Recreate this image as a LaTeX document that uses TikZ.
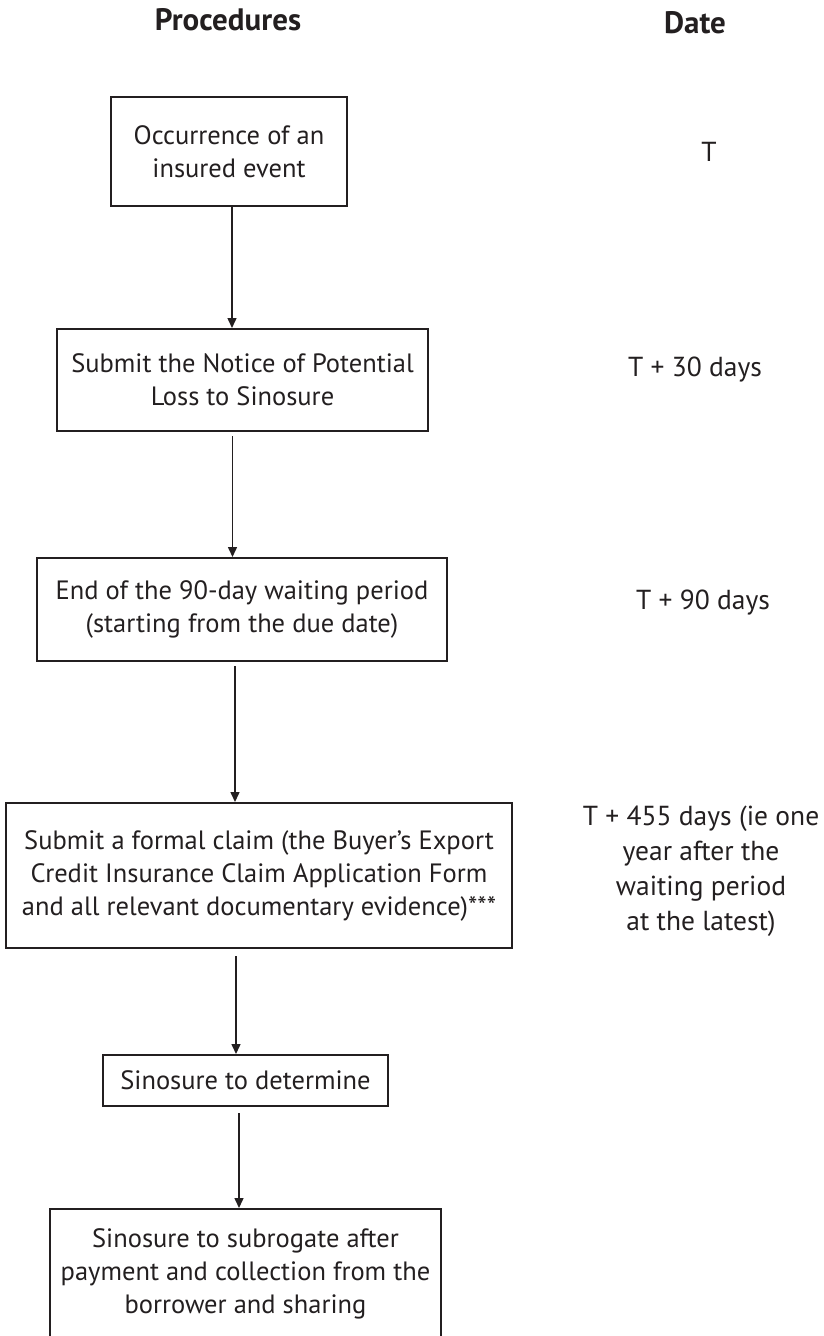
\documentclass[tikz,border=0pt]{standalone}
\usepackage{fontspec}
\setmainfont{PT Sans}
\usetikzlibrary{arrows.meta}
\definecolor{inkgray}{HTML}{231F20}

\begin{document}
\begin{tikzpicture}[x=1pt,y=-1pt,
		procbox/.style={draw=inkgray, line width=2pt, align=center, text=inkgray, inner sep=0pt, font=\fontsize{26.5}{33}\selectfont},
		datelabel/.style={align=center, text=inkgray, font=\fontsize{27.5}{35}\selectfont},
		heading/.style={text=inkgray, font=\fontsize{31}{36}\selectfont\bfseries},
		flow/.style={draw=inkgray, line width=1.5pt, -{Triangle[length=10pt,width=9pt]}}
	]
	\useasboundingbox (0,0) rectangle (823,1336);

	\node[heading] (proc) at (228,20) {Procedures};
	\node[heading] (date) at (695,23) {Date};

	\node[procbox, minimum width=236pt, minimum height=109pt] (occ) at (229,151.5) {Occurrence of an\\insured event};
	\node[procbox, minimum width=371pt, minimum height=102pt] (notice) at (242.5,380) {Submit the Notice of Potential\\Loss to Sinosure};
	\node[procbox, minimum width=410pt, minimum height=103pt] (wait) at (242,609.5) {End of the 90-day waiting period\\(starting from the due date)};
	\node[procbox, minimum width=506pt, minimum height=145pt] (claim) at (259,875.5) {Submit a formal claim (the Buyer’s Export\\Credit Insurance Claim Application Form\\and all relevant documentary evidence)***};
	\node[procbox, minimum width=285pt, minimum height=51pt] (det) at (245.5,1080.5) {Sinosure to determine};
	\node[procbox, minimum width=391pt, minimum height=130pt] (subro) at (245.5,1274) {Sinosure to subrogate after\\payment and collection from the\\borrower and sharing};

	\node[datelabel] (tzero) at (709,152) {T};
	\node[datelabel] (tthirty) at (695,370) {T + 30 days};
	\node[datelabel] (tninety) at (703,603) {T + 90 days};
	\node[datelabel] (tlast) at (701,871.5) {T + 455 days (ie one\\year after the\\waiting period\\at the latest)};

	\draw[flow] ([xshift=3pt]occ.south) -- ([xshift=3pt]occ.south |- notice.north);
	\draw[flow] ([xshift=-10pt,yshift=-4pt]notice.south) -- ([xshift=-10pt]notice.south |- wait.north);
	\draw[flow] ([xshift=-7pt,yshift=-4pt]wait.south) -- ([xshift=-7pt]wait.south |- claim.north);
	\draw[flow] ([xshift=-23pt,yshift=-7pt]claim.south) -- ([xshift=-23pt]claim.south |- det.north);
	\draw[flow] ([xshift=-6.5pt,yshift=-6pt]det.south) -- ([xshift=-6.5pt]det.south |- subro.north);
\end{tikzpicture}
\end{document}
